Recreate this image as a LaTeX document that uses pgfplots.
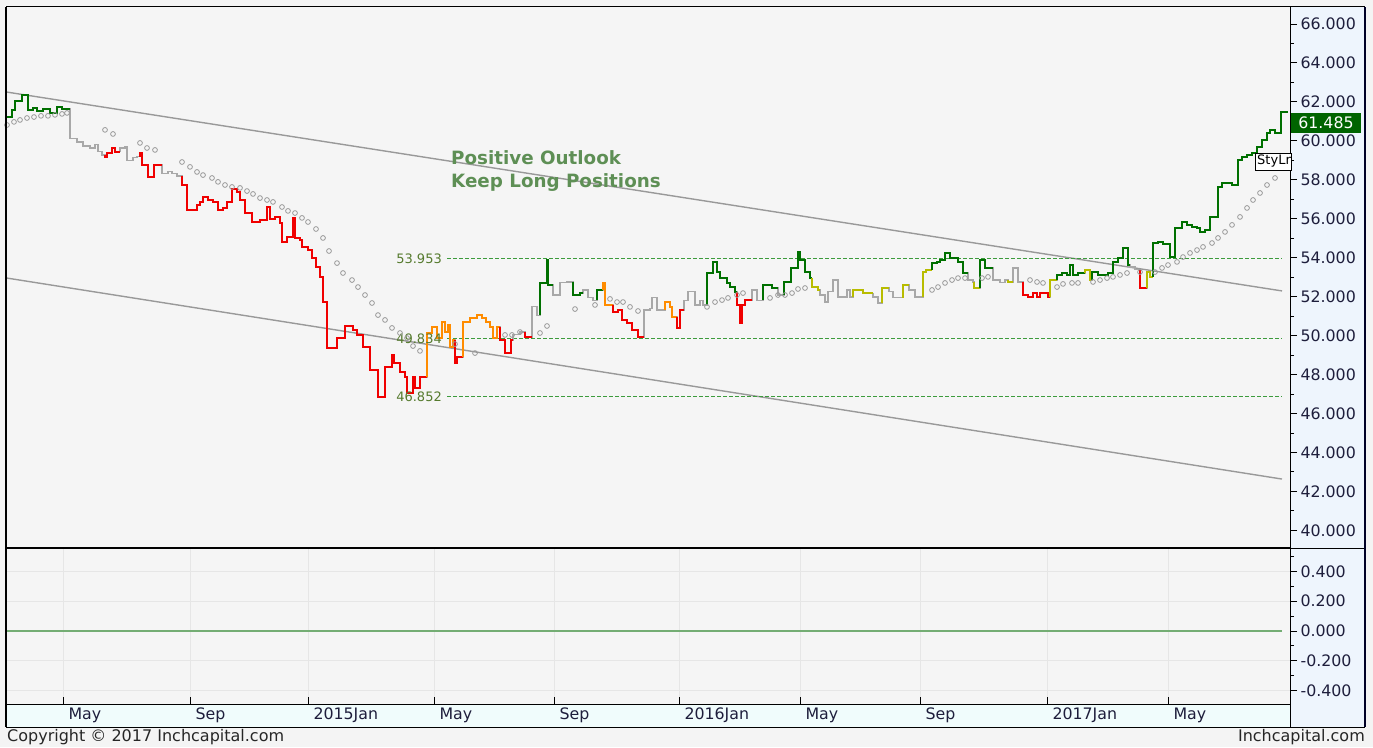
\documentclass[border=0pt]{standalone}
\usepackage{fontspec}
\setmainfont{DejaVu Sans}
\usepackage{pgfplots}
\pgfplotsset{compat=1.18}
\usepackage{pgfplotstable}
\definecolor{bgc}{HTML}{F4F4F4}
\definecolor{plotbg}{HTML}{F5F5F5}
\definecolor{rightbg}{HTML}{EEF5FD}
\definecolor{datebg}{HTML}{F0FCFC}
\definecolor{cgreen}{HTML}{007000}
\definecolor{cred}{HTML}{F00000}
\definecolor{corange}{HTML}{FF8C00}
\definecolor{colive}{HTML}{B8BC00}
\definecolor{cgray}{HTML}{A8A8A8}
\definecolor{chan}{HTML}{999999}
\definecolor{lvl}{HTML}{3C9B3C}
\definecolor{lvltext}{HTML}{557A2D}
\definecolor{note}{HTML}{5E8F55}
\definecolor{tickc}{HTML}{1E1E3C}
\definecolor{zline}{HTML}{74AD74}
\definecolor{gridc}{HTML}{E6E6E6}
\definecolor{tagg}{HTML}{006400}
\definecolor{sarc}{HTML}{9A9A9A}
\newcommand\tickfont{\fontsize{15.8}{17}\selectfont}

\pgfplotstableread{
x v
7 61.22
12 61.22
15 61.58
22 62.05
28 62.35
33 61.58
37 61.69
43 61.53
50 61.63
57 61.43
62 61.74
70 61.63
77 60.14
83 59.94
90 59.73
95 59.63
98 59.79
102 59.43
105 59.27
107 59.17
112 59.37
115 59.63
120 59.43
125 59.63
127 59.68
133 59.01
137 59.12
140 59.17
142 59.37
148 58.76
154 58.14
162 58.76
168 58.30
172 58.40
177 58.30
182 58.19
187 57.73
197 56.45
200 56.70
203 56.86
208 57.11
213 56.96
218 56.86
223 56.45
227 56.55
232 56.86
237 57.53
240 57.37
245 56.96
252 56.29
260 55.83
267 55.93
270 56.60
275 55.99
280 56.09
282 55.78
287 54.80
293 55.06
295 56.04
300 55.01
302 54.91
308 54.55
312 54.39
316 53.98
320 53.52
323 53.01
327 51.72
337 49.36
345 49.87
353 50.49
357 50.28
363 50.03
370 49.41
378 48.23
385 46.84
392 48.38
394 49.00
400 48.59
405 48.13
407 47.87
413 47.05
415 47.87
420 47.30
427 47.87
432 50.13
437 50.44
442 49.87
445 50.69
448 50.18
450 50.54
453 49.41
455 49.77
457 48.59
463 48.90
470 50.69
477 50.90
482 51.05
486 50.90
490 50.69
493 50.44
497 49.87
500 50.44
505 49.77
511 49.10
513 49.77
520 50.03
525 50.18
532 49.92
537 51.47
540 51.05
547 52.70
548 53.88
553 52.60
560 52.08
567 52.70
573 52.75
580 52.08
583 52.18
588 52.34
593 51.93
597 51.82
603 52.34
605 52.70
613 51.57
618 51.21
622 51.31
627 50.80
632 50.64
638 50.28
644 49.92
650 51.31
652 51.41
657 51.93
665 51.31
670 51.72
672 51.47
677 50.95
680 50.39
684 51.31
688 51.82
695 52.24
700 51.57
703 51.82
707 51.57
713 53.21
717 53.78
720 53.26
727 52.95
730 52.70
735 52.49
737 52.24
740 51.57
742 50.64
745 51.57
752 51.82
757 52.34
763 51.82
772 52.60
778 52.44
784 52.08
791 52.75
798 53.47
800 54.29
805 53.88
810 53.26
812 52.95
818 52.49
820 52.34
825 52.08
828 51.72
833 52.24
838 52.85
847 51.98
850 52.34
853 51.98
863 52.34
873 52.18
878 51.98
882 51.67
889 52.44
893 52.24
903 51.93
909 52.60
915 52.34
923 51.98
926 53.26
932 53.37
937 53.72
940 53.78
945 53.88
950 54.24
958 53.98
963 53.78
968 53.21
973 52.85
974 52.75
980 52.44
985 53.88
993 53.47
1000 52.85
1005 52.70
1008 52.85
1013 52.75
1018 53.47
1023 52.75
1028 52.08
1033 51.98
1037 52.18
1040 51.98
1048 52.18
1050 51.98
1057 52.85
1062 53.11
1067 53.21
1070 53.11
1073 53.62
1078 53.11
1085 53.21
1090 53.37
1092 52.85
1098 53.26
1108 53.11
1113 53.21
1118 53.78
1123 53.98
1128 54.49
1130 53.62
1135 53.52
1140 53.37
1147 52.44
1150 53.26
1153 53.01
1158 54.75
1163 54.80
1170 54.70
1175 54.03
1182 55.52
1187 55.83
1192 55.67
1197 55.57
1200 55.52
1205 55.32
1210 55.42
1218 56.09
1222 57.63
1232 57.83
1238 57.73
1242 59.01
1247 59.17
1252 59.27
1257 59.37
1262 59.68
1267 60.04
1270 60.40
1275 60.56
1281 60.40
1288 61.485
}\price

\pgfplotstableread{
x v
7 60.81
14 60.97
20 61.07
27 61.17
34 61.22
41 61.28
48 61.28
55 61.33
62 61.38
67 61.43
105 60.56
113 60.35
140 59.89
147 59.63
155 59.53
182 58.91
190 58.66
197 58.40
203 58.24
212 58.09
218 57.89
225 57.73
232 57.63
240 57.58
247 57.42
253 57.27
260 57.06
267 56.96
273 56.86
282 56.60
288 56.40
295 56.29
302 56.04
308 55.83
316 55.47
323 55.01
329 54.34
337 53.72
343 53.21
352 52.85
358 52.49
365 52.08
372 51.67
378 51.05
385 50.80
392 50.39
400 50.13
407 49.87
413 49.46
420 49.21
455 49.56
475 49.10
505 50.03
512 50.03
520 50.18
540 50.13
547 50.49
575 51.36
595 51.57
610 51.88
617 51.72
623 51.72
630 51.47
638 51.26
707 51.47
715 51.72
722 51.82
728 51.93
737 52.08
743 52.18
770 51.93
778 52.08
785 52.08
792 52.18
798 52.39
805 52.44
932 52.34
938 52.49
945 52.70
952 52.85
958 52.95
965 52.95
982 52.95
988 53.01
1030 52.85
1037 52.75
1043 52.70
1057 52.49
1063 52.65
1072 52.70
1078 52.70
1093 52.75
1100 52.85
1107 52.95
1113 53.01
1120 53.11
1127 53.21
1140 53.26
1155 53.26
1162 53.47
1168 53.62
1177 53.78
1183 54.03
1190 54.24
1197 54.39
1203 54.55
1212 54.75
1218 55.01
1225 55.32
1232 55.68
1240 56.09
1247 56.55
1253 56.96
1260 57.32
1267 57.73
1275 58.09
}\sar

\newcommand{\seg}[3]{\addplot[const plot mark right, color=#1, line width=2.5pt, restrict x to domain=#2:#3, forget plot] table[x=x,y=v] {\price};}

\begin{document}
\begin{tikzpicture}
\begin{scope}[x=1pt,y=1pt]
\fill[bgc] (0,0) rectangle (1373,747);
\fill[rightbg] (1290,20) rectangle (1365,740);
\fill[datebg] (7,20) rectangle (1290,43);
\end{scope}

% main panel
\begin{axis}[
  at={(7pt,199pt)}, anchor=south west, scale only axis,
  width=1283pt, height=541pt,
  xmin=7, xmax=1290, ymin=39.09, ymax=66.87,
  axis background/.style={fill=plotbg},
  axis line style={draw=none},
  xtick=\empty,
  ytick={40,42,...,66}, minor ytick={41,43,...,65},
  ytick pos=right, yticklabel pos=right, tick align=outside,
  major tick length=7pt, minor tick length=4pt,
  tick style={black, line width=0.8pt},
  yticklabel style={font=\tickfont, text=tickc,
    /pgf/number format/fixed, /pgf/number format/fixed zerofill,
    /pgf/number format/precision=3, /pgf/number format/assume math mode=true},
  clip=false,
]
\addplot[chan, line width=1.4pt] coordinates {(7,62.50) (1282,52.29)};
\addplot[chan, line width=1.4pt] coordinates {(7,52.95) (1282,42.63)};
\addplot[color=lvl, line width=1.2pt, dash pattern=on 4pt off 2pt] coordinates {(447,53.953) (1282,53.953)};
\addplot[color=lvl, line width=1.2pt, dash pattern=on 4pt off 2pt] coordinates {(447,49.834) (1282,49.834)};
\addplot[color=lvl, line width=1.2pt, dash pattern=on 4pt off 2pt] coordinates {(447,46.852) (1282,46.852)};
\addplot[only marks, mark=o, mark size=2.4pt, color=sarc, mark options={line width=0.8pt, draw=sarc}] table[x=x,y=v] {\sar};
\addplot[const plot mark right, color=cgray, line width=1.1pt] table[x=x,y=v] {\price};
\seg{cgreen}{7}{70}
\seg{cred}{105}{120}
\seg{cred}{140}{162}
\seg{cred}{182}{427}
\seg{corange}{427}{455}
\seg{cred}{455}{463}
\seg{corange}{463}{500}
\seg{cred}{500}{513}
\seg{cred}{525}{532}
\seg{cgreen}{540}{553}
\seg{cgreen}{573}{583}
\seg{cgreen}{597}{603}
\seg{corange}{603}{613}
\seg{cred}{613}{644}
\seg{corange}{665}{677}
\seg{cred}{677}{684}
\seg{cgreen}{707}{737}
\seg{cred}{737}{752}
\seg{cgreen}{763}{778}
\seg{cgreen}{784}{812}
\seg{colive}{812}{820}
\seg{colive}{853}{873}
\seg{colive}{882}{889}
\seg{colive}{903}{909}
\seg{colive}{923}{932}
\seg{cgreen}{932}{968}
\seg{colive}{974}{980}
\seg{cgreen}{980}{993}
\seg{colive}{1008}{1013}
\seg{cred}{1023}{1050}
\seg{colive}{1050}{1057}
\seg{cgreen}{1057}{1085}
\seg{colive}{1085}{1092}
\seg{cgreen}{1092}{1130}
\seg{cred}{1140}{1147}
\seg{colive}{1147}{1153}
\seg{cgreen}{1153}{1288}
\node[anchor=east, text=lvltext, font=\fontsize{13}{15}\selectfont, inner sep=0pt] at (axis cs:442,53.953) {53.953};
\node[anchor=east, text=lvltext, font=\fontsize{13}{15}\selectfont, inner sep=0pt] at (axis cs:442,49.834) {49.834};
\node[anchor=east, text=lvltext, font=\fontsize{13}{15}\selectfont, inner sep=0pt] at (axis cs:442,46.852) {46.852};
\end{axis}

% lower panel: grids and date ticks
\begin{axis}[
  at={(7pt,43pt)}, anchor=south west, scale only axis,
  width=1283pt, height=156pt,
  xmin=7, xmax=1290, ymin=-0.491, ymax=0.558,
  axis background/.style={fill=plotbg},
  axis line style={draw=none},
  xtick={63,190,308,434,554,679,800,920,1047,1168},
  xticklabels={May,Sep,2015Jan,May,Sep,2016Jan,May,Sep,2017Jan,May},
  xtick pos=bottom, ytick=\empty,
  tick align=inside, major tick length=7pt,
  tick style={black, line width=0.8pt},
  xmajorgrids, major grid style={gridc, line width=0.8pt},
  xticklabel style={anchor=west, font=\tickfont, text=tickc, xshift=2pt, yshift=-11pt},
  clip=false,
]
\draw[gridc, line width=0.8pt] (axis cs:7,0.4) -- (axis cs:1290,0.4);
\draw[gridc, line width=0.8pt] (axis cs:7,0.2) -- (axis cs:1290,0.2);
\draw[gridc, line width=0.8pt] (axis cs:7,-0.2) -- (axis cs:1290,-0.2);
\draw[gridc, line width=0.8pt] (axis cs:7,-0.4) -- (axis cs:1290,-0.4);
\addplot[color=zline, line width=2pt] coordinates {(7,0) (1282,0)};
\end{axis}

% lower panel: right value axis
\begin{axis}[
  at={(7pt,43pt)}, anchor=south west, scale only axis,
  width=1283pt, height=156pt,
  xmin=7, xmax=1290, ymin=-0.491, ymax=0.558,
  axis line style={draw=none},
  xtick=\empty,
  ytick={-0.4,-0.2,0,0.2,0.4}, minor ytick={-0.3,-0.1,0.1,0.3,0.5},
  ytick pos=right, yticklabel pos=right, tick align=outside,
  major tick length=7pt, minor tick length=4pt,
  tick style={black, line width=0.8pt},
  yticklabel style={font=\tickfont, text=tickc,
    /pgf/number format/fixed, /pgf/number format/fixed zerofill,
    /pgf/number format/precision=3, /pgf/number format/assume math mode=true},
]
\end{axis}

\begin{scope}[x=1pt,y=1pt]
% frame
\draw[black, line width=2pt] (6,20) -- (6,740);
\draw[black, line width=1pt] (6,740) -- (1365,740);
\draw[black, line width=2pt] (7,199) -- (1290,199);
\draw[black, line width=0.8pt] (1290,199) -- (1365,199);
\draw[black, line width=1pt] (1290,20) -- (1290,740);
\draw[black, line width=1pt] (7,43) -- (1290,43);
\draw[black, line width=1pt] (6,20) -- (1365,20);
\draw[black!85!blue, line width=1.5pt] (1365,20) -- (1365,740);

% annotations
\node[anchor=west, text=note, font=\bfseries\fontsize{18.3}{20}\selectfont, inner sep=0pt] at (451,589) {Positive Outlook};
\node[anchor=west, text=note, font=\bfseries\fontsize{18.3}{20}\selectfont, inner sep=0pt] at (451,564) {Keep Long Positions};
\fill[tagg] (1291,614) rectangle (1361,634);
\node[anchor=center, text=white, font=\tickfont, inner sep=0pt] at (1326,624) {61.485};
\begin{scope}
\clip (1255,577) rectangle (1291,594);
\fill[white] (1255,577) rectangle (1291,594);
\node[anchor=west, text=black, font=\fontsize{13}{15}\selectfont, inner sep=0pt] at (1257,585.5) {StyLn};
\end{scope}
\draw[black, line width=0.8pt] (1255,577) rectangle (1291,594);

\node[anchor=west, text=black!85, font=\fontsize{16}{18}\selectfont, inner sep=0pt] at (7,10) {Copyright © 2017 Inchcapital.com};
\node[anchor=east, text=black!85, font=\fontsize{16}{18}\selectfont, inner sep=0pt] at (1365,10) {Inchcapital.com};
\end{scope}
\end{tikzpicture}
\end{document}
